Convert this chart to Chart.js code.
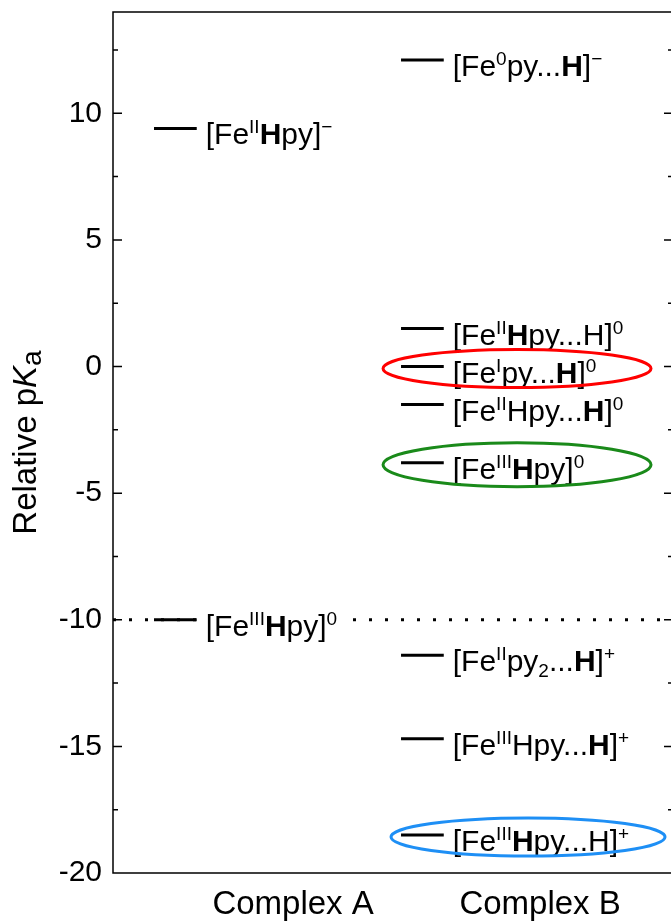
<!DOCTYPE html>
<html>
<head>
<meta charset="utf-8">
<script src="https://cdn.jsdelivr.net/npm/chart.js@4.4.0/dist/chart.umd.min.js"></script>
<style>
  html, body { margin: 0; padding: 0; background: #fff; overflow: hidden; }
  #wrap { width: 690px; height: 924px; }
</style>
</head>
<body>
<div id="wrap"><canvas id="chart" width="690" height="924"></canvas></div>
<script>
const complexes = ['Complex A', 'Complex B'];
const yTicks = [-20, -15, -10, -5, 0, 5, 10];

// relative pKa levels
const levelsA = [9.4, -10.0];
const namesA = ['[Fe^{II}**H**py]^{−}', '[Fe^{III}**H**py]^{0}'];
const levelsB = [12.1, 1.5, 0.0, -1.5, -3.8, -11.4, -14.7, -18.5];
const namesB = [
  '[Fe^{0}py...**H**]^{−}',
  '[Fe^{II}**H**py...H]^{0}',
  '[Fe^{I}py...**H**]^{0}',
  '[Fe^{II}Hpy...**H**]^{0}',
  '[Fe^{III}**H**py]^{0}',
  '[Fe^{II}py_{2}...**H**]^{+}',
  '[Fe^{III}Hpy...**H**]^{+}',
  '[Fe^{III}**H**py...H]^{+}',
];
const refLevel = -10;

// circled states of complex B
const circledB = [2, 4, 7];
const circleColors = ['#ff0000', '#1a8a1a', '#1e8ff5'];

const FONT = '"Liberation Sans", Arial, sans-serif';
const X_MIN = 0.271, X_MAX = 2.538;
const LINE_FROM = -0.563, LINE_TO = -0.39;
const LABEL_SIZE = 30, SUP_SIZE = 19;
// ellipse geometry in px: [left offset from line start, rx, ry]
const circleGeom = [[-18, 134, 19], [-18, 134, 22], [-10, 137, 19]];

function parseRich(str) {
  const segs = [];
  let bold = false, buf = '', i = 0;
  const flush = () => { if (buf) segs.push({ t: buf, bold, shift: 0 }); buf = ''; };
  while (i < str.length) {
    if (str.startsWith('**', i)) { flush(); bold = !bold; i += 2; }
    else if ((str[i] === '^' || str[i] === '_') && str[i + 1] === '{') {
      flush();
      const end = str.indexOf('}', i);
      segs.push({ t: str.slice(i + 2, end), bold: false, shift: str[i] === '^' ? -11 : 6 });
      i = end + 1;
    } else { buf += str[i]; i++; }
  }
  flush();
  return segs;
}

function richFont(s) {
  return (s.bold ? 'bold ' : '') + (s.shift ? SUP_SIZE : LABEL_SIZE) + 'px ' + FONT;
}

function drawRich(ctx, str, x, y) {
  const segs = parseRich(str);
  let w = 0;
  segs.forEach(s => { ctx.font = richFont(s); w += ctx.measureText(s.t).width; });
  // white box so the dotted line stops behind the text
  ctx.fillStyle = '#fff';
  ctx.fillRect(x - 3, y - 26, w + 14, 34);
  ctx.fillStyle = '#000';
  for (const s of segs) {
    ctx.font = richFont(s);
    ctx.fillText(s.t, x, y + s.shift);
    x += ctx.measureText(s.t).width;
  }
}

const datasets = [{
  data: [{ x: X_MIN, y: refLevel }, { x: X_MAX, y: refLevel }],
  borderColor: '#000', borderWidth: 3, borderDash: [3, 13], pointRadius: 0,
}];
[levelsA, levelsB].forEach((lv, i) => {
  lv.forEach(v => datasets.push({
    data: [{ x: i + 1 + LINE_FROM, y: v }, { x: i + 1 + LINE_TO, y: v }],
    borderColor: '#000', borderWidth: 3, pointRadius: 0,
  }));
});

const annotate = {
  id: 'annotate',
  afterDraw(chart) {
    const { ctx, chartArea: a, scales: { x, y } } = chart;
    ctx.save();

    // level names
    ctx.textBaseline = 'alphabetic';
    ctx.textAlign = 'left';
    [[levelsA, namesA], [levelsB, namesB]].forEach(([lv, names], i) => {
      const px = x.getPixelForValue(i + 1 + LINE_TO) + 9;
      lv.forEach((v, j) => drawRich(ctx, names[j], px, y.getPixelForValue(v) + 16));
    });

    // frame and inward ticks
    ctx.strokeStyle = '#000';
    ctx.lineWidth = 1.5;
    ctx.beginPath();
    ctx.rect(a.left, a.top, a.right - a.left, a.bottom - a.top);
    yTicks.forEach(v => {
      const py = y.getPixelForValue(v);
      ctx.moveTo(a.left, py); ctx.lineTo(a.left + 9, py);
      ctx.moveTo(a.right, py); ctx.lineTo(a.right - 9, py);
      const m = v + 2.5;
      if (m < y.max) {
        const pm = y.getPixelForValue(m);
        ctx.moveTo(a.left, pm); ctx.lineTo(a.left + 5, pm);
        ctx.moveTo(a.right, pm); ctx.lineTo(a.right - 5, pm);
      }
    });
    ctx.stroke();

    // circles around highlighted states
    ctx.lineWidth = 3;
    circledB.forEach((j, k) => {
      const [dx, rx, ry] = circleGeom[k];
      const cx = x.getPixelForValue(2 + LINE_FROM) + dx + rx;
      const cy = y.getPixelForValue(levelsB[j]) + 2;
      ctx.strokeStyle = circleColors[k];
      ctx.beginPath();
      ctx.ellipse(cx, cy, rx, ry, 0, 0, Math.PI * 2);
      ctx.stroke();
    });

    // y title: Relative pKa
    ctx.fillStyle = '#000';
    ctx.translate(36, (a.top + a.bottom) / 2);
    ctx.rotate(-Math.PI / 2);
    const parts = [
      ['Relative p', '33px ' + FONT, 0],
      ['K', 'italic 33px ' + FONT, 0],
      ['a', '28px ' + FONT, 5],
    ];
    let w = 0;
    parts.forEach(p => { ctx.font = p[1]; w += ctx.measureText(p[0]).width; });
    let tx = -w / 2;
    parts.forEach(p => {
      ctx.font = p[1];
      ctx.fillText(p[0], tx, p[2]);
      tx += ctx.measureText(p[0]).width;
    });
    ctx.restore();
  },
};

new Chart(document.getElementById('chart'), {
  type: 'line',
  data: { datasets },
  options: {
    responsive: false,
    animation: false,
    layout: { padding: { top: 12, right: 17, left: 0, bottom: 0 } },
    plugins: { legend: { display: false }, tooltip: { enabled: false } },
    scales: {
      x: {
        type: 'linear', min: X_MIN, max: X_MAX,
        grid: { display: false, drawTicks: false },
        border: { display: false },
        afterBuildTicks: s => { s.ticks = complexes.map((c, i) => ({ value: i + 1 })); },
        afterFit: s => { s.height = 51; },
        ticks: {
          autoSkip: false, maxRotation: 0, padding: 12, color: '#000',
          font: { family: FONT, size: 33 },
          callback: v => complexes[v - 1],
        },
      },
      y: {
        min: -20, max: 14,
        grid: { display: false, drawTicks: false },
        border: { display: false },
        afterBuildTicks: s => { s.ticks = yTicks.map(v => ({ value: v })); },
        afterFit: s => { s.width = 113; },
        ticks: { padding: 11, color: '#000', font: { family: FONT, size: 30, lineHeight: 0.05 } },
      },
    },
  },
  plugins: [annotate],
});
</script>
</body>
</html>
